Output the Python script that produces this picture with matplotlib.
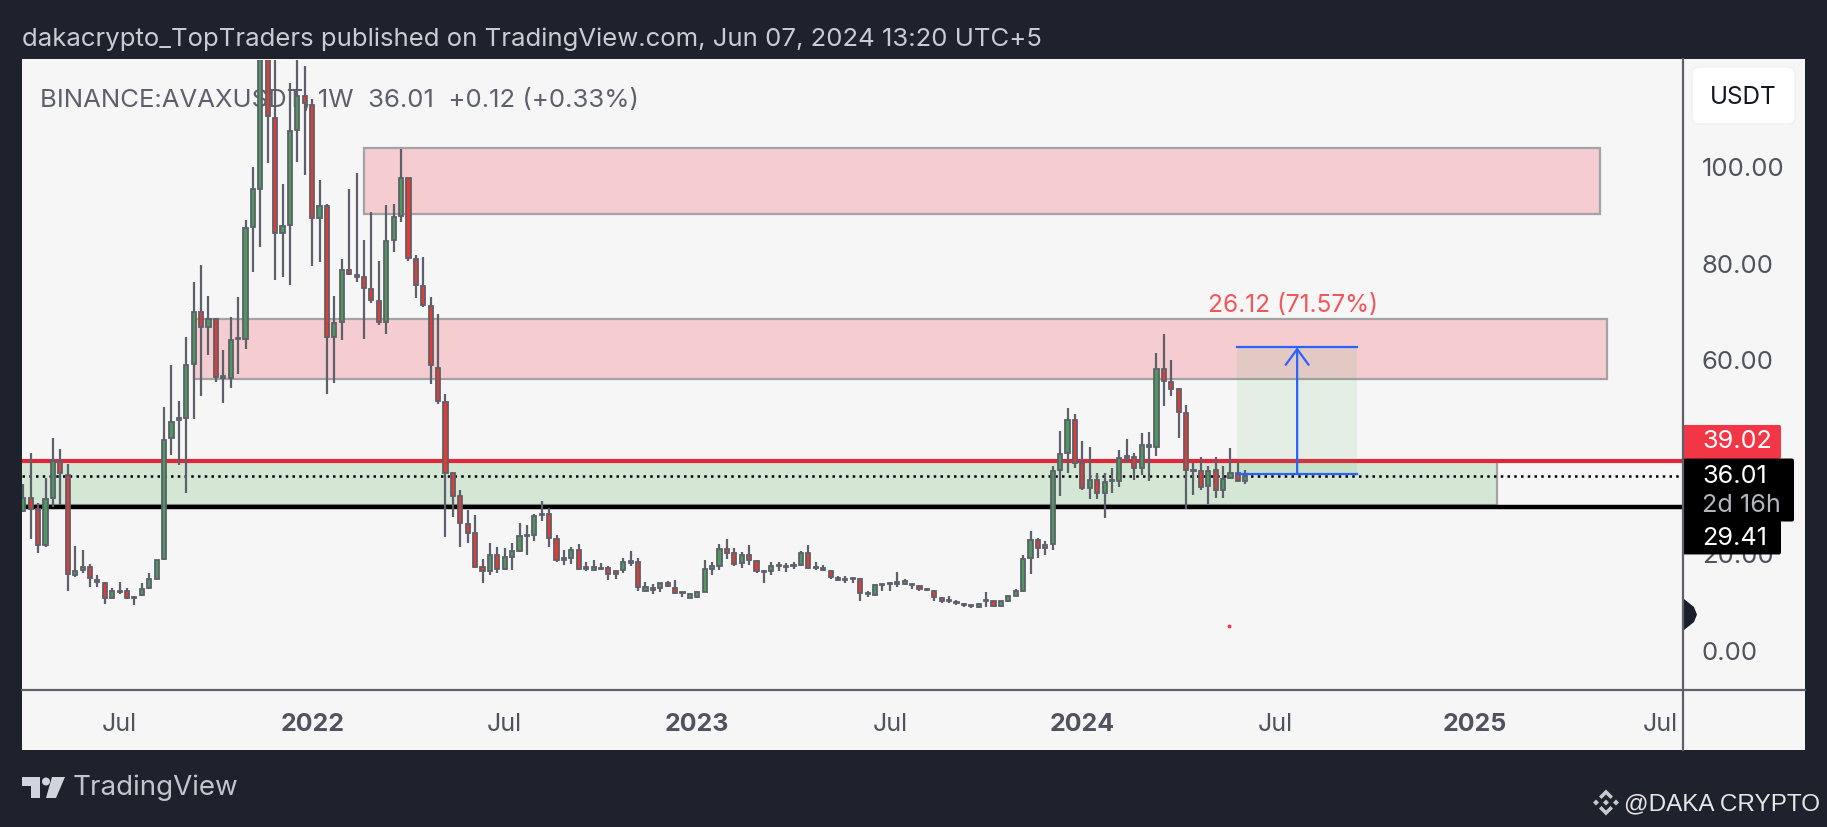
import numpy as np
import matplotlib
matplotlib.use("Agg")
import matplotlib.pyplot as plt
from matplotlib.patches import Rectangle, FancyBboxPatch, Polygon, Circle

plt.rcParams['font.family'] = ['Inter', 'DejaVu Sans']

opens = [28.7,31.3,29.1,21.6,31.3,39.0,36.2,15.4,16.4,17.1,
         14.5,13.7,10.8,12.25,12.1,10.9,11.3,12.7,14.7,18.7,
         43.7,47.4,47.9,59.0,69.7,66.7,68.3,56.5,56.1,64.2,
         64.3,87.4,95.3,128,109.9,86.2,87.8,107.3,114.5,112.6,
         89.2,91.7,64.7,67.7,78.5,77.5,77.0,74.6,72.1,67.7,
         84.7,89.6,97.5,80.7,75.1,71.1,58.3,51.2,36.5,31.7,
         26.0,24.1,17.1,16.2,19.5,16.6,19.1,20.5,23.5,23.8,
         27.8,28.0,22.9,18.5,18.9,20.7,16.7,16.5,16.9,16.9,
         16.2,16.4,18.0,18.2,12.2,12.7,12.8,13.8,12.8,12.0,
         10.8,10.9,12.0,16.7,17.4,20.9,20.0,17.9,19.6,18.3,
         16.0,16.2,17.4,17.4,17.4,17.6,20.0,17.1,16.4,16.2,
         14.9,14.6,14.8,14.6,11.5,11.4,13.3,13.5,13.6,13.6,
         13.5,13.1,12.6,12.2,10.7,10.2,9.8,9.5,9.2,8.8,
         10.0,10.0,9.15,10.0,11.2,12.2,18.9,22.7,21.0,21.9,
         37.2,40.6,47.4,38.6,33.5,35.0,32.5,34.8,34.8,39.7,
         39.9,37.5,42.0,42.0,58.1,55.4,53.9,49.0,37.2,37.0,
         33.9,37.2,33.0,35.4,36.5,34.9]
closes = [31.3,29.1,21.6,31.1,39.0,36.5,15.7,16.3,17.2,14.9,
          14.0,10.75,12.25,11.9,10.7,10.7,12.5,14.6,18.6,43.3,
          47.1,47.85,58.9,69.7,66.7,68.3,56.4,56.2,64.1,64.5,
          87.2,95.2,128,110.2,86.2,87.6,107.2,114.4,112.9,89.2,
          91.7,64.7,67.5,78.5,77.6,77.1,74.8,72.2,67.7,84.5,
          89.5,97.5,80.9,75.4,71.3,58.8,51.5,36.6,31.7,26.2,
          24.1,17.2,16.2,19.5,16.7,19.1,20.5,23.6,23.8,27.7,
          28.1,23.0,18.5,18.9,20.7,16.7,17.1,17.2,16.7,15.7,
          15.7,18.2,18.3,12.9,12.9,12.4,13.8,13.1,11.8,11.8,
          11.6,12.0,16.7,17.4,20.9,20.0,17.8,19.6,18.5,16.2,
          16.2,17.4,17.6,17.2,17.6,20.0,16.8,16.9,16.9,15.0,
          14.4,14.4,14.7,11.7,11.7,13.3,13.5,13.7,14.1,14.2,
          13.4,12.5,12.4,10.9,10.1,10.0,9.6,9.3,9.0,9.55,
          10.2,9.15,10.0,11.2,12.2,18.8,22.7,21.1,21.7,37.0,
          40.5,47.4,38.6,33.4,35.0,32.5,34.6,35.0,39.6,40.0,
          37.5,42.4,42.4,58.1,55.6,53.9,49.2,37.2,37.0,33.7,
          37.0,33.0,35.3,36.6,34.9,36.01]
highs = [34.2,40.6,30.3,35.4,43.7,41.5,38.4,21.4,20.6,17.8,
         15.4,14.1,12.7,14.1,12.7,11.1,13.8,15.9,18.6,50.1,
         58.8,51.5,64.7,76.0,79.6,73.0,68.4,61.9,68.8,72.8,
         88.7,99.7,147,147,140,96.3,117.1,126,120.6,113.7,
         97.0,92.1,73.2,80.7,95.2,98.5,84.7,90.4,80.3,92.0,
         92.2,103.5,97.5,81.5,81.1,72.8,69.3,52.8,36.5,33.1,
         28.9,27.9,18.7,22.0,21.2,21.1,22.0,26.3,25.8,28.1,
         30.8,29.3,23.8,20.7,21.2,21.8,18.2,18.5,17.9,17.4,
         16.3,18.9,20.5,18.9,14.1,13.6,13.9,14.3,14.5,12.0,
         11.7,12.2,18.6,18.2,21.8,22.9,21.0,20.3,21.6,18.6,
         16.5,18.2,18.1,17.9,18.1,20.5,21.6,18.2,17.6,16.4,
         15.3,15.2,14.9,14.8,12.2,13.6,13.6,14.1,16.0,14.6,
         13.6,13.4,12.7,12.4,10.9,11.2,10.2,9.6,9.3,9.6,
         11.9,10.1,10.1,11.4,12.6,19.6,24.6,23.2,22.5,37.9,
         45.3,49.9,48.7,43.2,41.8,36.6,36.6,37.5,41.2,43.5,
         40.6,44.8,45.1,61.3,65.2,59.9,54.1,50.6,38.6,39.9,
         37.9,39.9,37.9,41.7,38.9,37.2]
lows = [28.4,22.8,20.0,21.3,29.5,29.9,12.1,15.1,15.8,12.9,
        12.9,9.5,10.7,11.5,10.5,9.3,11.1,12.5,14.6,18.6,
        40.2,38.2,32.3,47.7,52.4,61.0,55.4,50.9,54.0,57.0,
        62.1,78.1,83.3,100.5,76.4,77.0,75.4,100.8,98.2,79.2,
        80.1,52.8,55.2,64.1,77.5,75.9,64.3,71.6,67.1,65.3,
        82.1,88.4,80.3,72.6,70.9,55.0,50.7,23.4,27.5,21.3,
        22.0,17.0,13.8,15.4,15.8,16.5,16.4,20.3,19.5,22.4,
        26.6,21.3,18.1,17.6,17.8,16.5,16.2,16.4,16.4,14.5,
        14.6,15.8,17.4,12.2,12.1,11.6,12.0,12.9,11.5,11.0,
        10.7,10.8,11.9,15.5,16.5,18.8,17.4,16.9,17.6,15.8,
        13.9,15.4,16.2,16.0,16.7,17.4,16.7,16.4,16.2,14.6,
        14.3,13.8,13.8,10.0,11.0,11.2,12.2,12.2,12.9,13.4,
        12.6,12.2,12.2,10.0,9.6,9.6,9.3,8.9,8.7,8.7,
        8.9,8.9,8.8,9.8,11.1,12.0,15.6,18.9,19.5,20.6,
        31.7,36.5,37.5,33.0,31.2,31.2,27.2,32.4,33.6,38.6,
        35.1,36.1,34.8,40.1,50.3,52.5,43.7,29.1,31.9,33.0,
        30.2,31.3,31.3,35.2,34.8,34.3]

time_ticks = [13, 39, 65, 91, 117, 143, 169, 196, 221]
time_labels = ['Jul', '2022', 'Jul', '2023', 'Jul', '2024', 'Jul', '2025', 'Jul']
price_ticks = [0, 20, 40, 60, 80, 100]
price_labels = ['0.00', '20.00', '40.00', '60.00', '80.00', '100.00']

upper_zone = (46.0, 212.9, 90.0, 103.6)
middle_zone = (23.0, 213.9, 56.0, 68.4)
demand_zone = (-2.0, 199.0, 29.96, 39.02)
resistance = 39.02
support = 29.41
last_price = 36.01
long_pos = (163.9, 180.1, 36.4, 62.5, 172.0)
dot = (162.8, 5.0)

W, H = 1827, 828
DARK = '#1e222d'
PANEL = '#f6f6f7'
GREY = '#5d606b'
TXT = '#50535e'

fig = plt.figure(figsize=(W / 100, H / 100), dpi=100, facecolor=DARK)


def px_axes(z):
    a = fig.add_axes([0, 0, 1, 1], zorder=z)
    a.set_xlim(0, W)
    a.set_ylim(H, 0)
    a.axis('off')
    a.patch.set_alpha(0)
    return a


back = px_axes(0)
back.add_patch(Rectangle((22, 60), 1783, 691, fc=PANEL, ec='none'))

ax = fig.add_axes([22 / W, 1 - 691.8 / H, (1683 - 22) / W, (691 - 60) / H], zorder=1)
ax.patch.set_alpha(0)
for s in ax.spines.values():
    s.set_visible(False)
ax.set_xlim(-0.18, 224.1)
ax.set_ylim(-8.47, 121.9)
ax.yaxis.tick_right()
ax.set_yticks(price_ticks, price_labels)
ax.set_xticks(time_ticks, time_labels)
ax.tick_params(axis='y', length=0, pad=13.5, labelsize=18.5, labelcolor=TXT)
ax.tick_params(axis='x', length=0, pad=15.5, labelsize=18, labelcolor=TXT)
for lab in ax.get_xticklabels():
    if lab.get_text().isdigit():
        lab.set_fontweight('bold')

ax.text(40, 100, 'BINANCE:AVAXUSDT, 1W  36.01  +0.12 (+0.33%)', transform=back.transData,
        color=GREY, fontsize=18.5, va='center', ha='left', zorder=1)


def zone(z, fc, alpha):
    x0, x1, y0, y1 = z
    ax.add_patch(Rectangle((x0, y0), x1 - x0, y1 - y0, fc=matplotlib.colors.to_rgba(fc, alpha),
                           ec='#a3a3a5', lw=1.6, zorder=2))


zone(upper_zone, '#f23645', 0.21)
zone(middle_zone, '#f23645', 0.21)
zone(demand_zone, '#4caf50', 0.2)
ax.axhline(resistance, color='#e0273a', lw=3.0, zorder=2.1)
ax.axhline(support, color='black', lw=3.2, zorder=2.1)
ax.axhline(last_price, color='black', lw=1.8, ls=(0, (1, 1.7)), zorder=2.2)

# long position tool
lx0, lx1, ly0, ly1, lxa = long_pos
ax.add_patch(Rectangle((lx0, ly0), lx1 - lx0, ly1 - ly0, fc='#4caf50', alpha=0.1, ec='none', zorder=2.3))

xs = np.arange(len(closes))
o, c, hi, lo = map(np.array, (opens, closes, highs, lows))
ax.vlines(xs, lo, hi, color=GREY, lw=1.6, zorder=3)
up = c >= o
body_colors = np.where(up, '#4c9a5b', '#e8392f')
ax.bar(xs, np.abs(c - o), bottom=np.minimum(o, c), width=0.56, color=body_colors,
       edgecolor=GREY, linewidth=1.3, zorder=4)

# long position lines on top
ax.plot([lx0, lx1], [ly1, ly1], color='#2962ff', lw=1.6, zorder=5)
ax.plot([lx0, lx1], [ly0, ly0], color='#2962ff', lw=1.6, zorder=5)
ax.annotate('', xy=(lxa, ly1), xytext=(lxa, ly0), zorder=5,
            arrowprops=dict(arrowstyle='->,head_length=0.75,head_width=0.55', color='#2962ff', lw=1.6,
                            shrinkA=0, shrinkB=0, mutation_scale=15))
ax.text(171.5, 71.4, '26.12 (71.57%)', color='#f2555a', fontsize=17.6, ha='center', va='center', zorder=5)
ax.plot([dot[0]], [dot[1]], 'o', color='#f23645', ms=2.8, mew=0, zorder=5)

over = px_axes(5)
# frame lines
over.plot([22, 1805], [691, 691], color=GREY, lw=1.6)
over.plot([1683, 1683], [60, 751], color=GREY, lw=1.6)


def py(v):
    return H - ax.transData.transform((0, v))[1]


def tag(x0, x1, y0, y1, color):
    over.add_patch(FancyBboxPatch((x0, y0), x1 - x0, y1 - y0,
                                  boxstyle='round,pad=0,rounding_size=2', fc=color, ec='none'))


tag(1683, 1781, py(resistance) - 36, py(resistance) - 2, '#f23645')
tag(1683, 1781, py(support) + 13, py(support) + 47, 'black')
tag(1683, 1794, py(last_price) - 17, py(last_price) + 46, 'black')
over.text(1702, py(resistance) - 20, f'{resistance:.2f}', color='white', fontsize=18.2, va='center')
over.text(1702, py(last_price), f'{last_price:.2f}', color='white', fontsize=18.2, va='center')
over.text(1702, py(last_price) + 29, '2d 16h', color='#b2b5be', fontsize=18.2, va='center')
over.text(1702, py(support) + 30, f'{support:.2f}', color='white', fontsize=18.2, va='center')

# price scale marker
over.add_patch(Polygon([(1684, 600), (1694, 608), (1697, 615.5), (1694, 623), (1684, 631)], fc='#1a1f2c', ec='none'))

# USDT button
over.add_patch(FancyBboxPatch((1692, 68), 103, 57, boxstyle='round,pad=0,rounding_size=7', fc='white', ec='#eeeef0', lw=0.8))
over.text(1743, 97, 'USDT', color='#131722', fontsize=17.5, ha='center', va='center')

# header and footer
over.text(22, 39, 'dakacrypto_TopTraders published on TradingView.com, Jun 07, 2024 13:20 UTC+5',
          color='#c9ccd3', fontsize=18.5, va='center', ha='left')
logo = '#d1d4dc'
over.add_patch(Polygon([(22, 778), (40, 778), (40, 799), (31, 799), (31, 787), (22, 787)], fc=logo, ec='none'))
over.add_patch(Circle((46, 782.5), 4, fc=logo, ec='none'))
over.add_patch(Polygon([(52, 778), (65, 778), (56, 799), (46, 799)], fc=logo, ec='none'))
over.text(73, 788, 'TradingView', color='#c2c5cc', fontsize=20, va='center', ha='left')

# watermark
cx, cy, bc = 1606, 803.5, '#c8c8c8'
over.add_patch(Polygon([(cx, cy - 13), (cx + 7, cy - 6), (cx + 4.5, cy - 3.5), (cx, cy - 8), (cx - 4.5, cy - 3.5), (cx - 7, cy - 6)], fc=bc, ec='none'))
over.add_patch(Polygon([(cx, cy + 13), (cx + 7, cy + 6), (cx + 4.5, cy + 3.5), (cx, cy + 8), (cx - 4.5, cy + 3.5), (cx - 7, cy + 6)], fc=bc, ec='none'))
for dx in (-10, 0, 10):
    s = 3
    over.add_patch(Polygon([(cx + dx, cy - s), (cx + dx + s, cy), (cx + dx, cy + s), (cx + dx - s, cy)], fc=bc, ec='none'))
over.text(1624, 804, '@DAKA CRYPTO', color='#e6e6e6', fontsize=17.5, va='center', ha='left', family='Liberation Sans')

fig.savefig('out.png', dpi=100, facecolor=DARK)
